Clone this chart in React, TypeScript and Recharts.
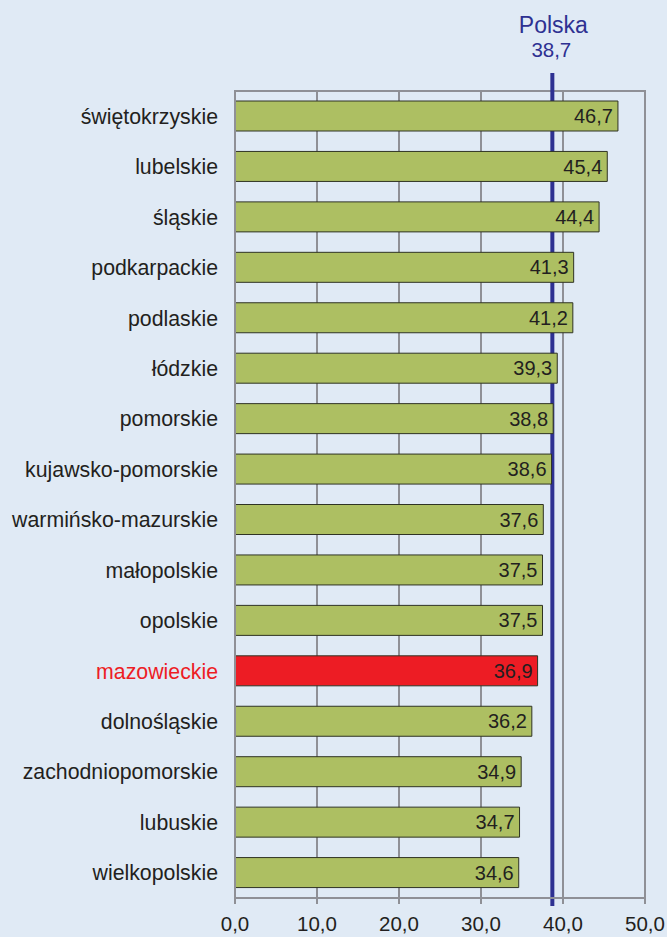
import React from "react";
import {
  BarChart,
  Bar,
  XAxis,
  YAxis,
  CartesianGrid,
  ReferenceLine,
  ReferenceArea,
  LabelList,
  Cell,
} from "recharts";

const regions = [
  "świętokrzyskie",
  "lubelskie",
  "śląskie",
  "podkarpackie",
  "podlaskie",
  "łódzkie",
  "pomorskie",
  "kujawsko-pomorskie",
  "warmińsko-mazurskie",
  "małopolskie",
  "opolskie",
  "mazowieckie",
  "dolnośląskie",
  "zachodniopomorskie",
  "lubuskie",
  "wielkopolskie",
];

const values = [
  46.7, 45.4, 44.4, 41.3, 41.2, 39.3, 38.8, 38.6, 37.6, 37.5, 37.5, 36.9, 36.2,
  34.9, 34.7, 34.6,
];

const xTicks = [0, 10, 20, 30, 40, 50];

const highlight = "mazowieckie";
const polskaLabel = "Polska";
const polskaValue = 38.7;

const BG = "#e0eaf5";
const GRID = "#8f9096";
const GREEN = "#adbf62";
const RED = "#ed1c24";
const BLUE = "#2e3192";
const TEXT = "#231f20";
const FONT = "Arial, 'Liberation Sans', Helvetica, sans-serif";

const data = regions.map((name, i) => ({ name, value: values[i] }));

const fmt = (v: number) => v.toFixed(1).replace(".", ",");

const RegionTick = (props: any) => {
  const { x, y, payload } = props;
  const isHi = payload.value === highlight;
  return (
    <text
      x={x}
      y={y}
      dy="0.355em"
      textAnchor="end"
      fontSize={21.3}
      fontFamily={FONT}
      fill={isHi ? RED : TEXT}
    >
      {payload.value}
    </text>
  );
};

const PolskaLine = (props: any) => {
  const { x1, y1, x2, y2 } = props;
  const top = Math.min(y1, y2) - 18;
  const bottom = Math.max(y1, y2) + 8;
  return (
    <g>
      <line x1={x1} y1={top} x2={x2} y2={bottom} stroke={BLUE} strokeWidth={4} />
      <text
        x={x1 + 1}
        y={top - 40}
        textAnchor="middle"
        fontSize={23}
        fontFamily={FONT}
        fill={BLUE}
      >
        {polskaLabel}
      </text>
      <text
        x={x1 - 1}
        y={top - 16}
        textAnchor="middle"
        fontSize={20.5}
        fontFamily={FONT}
        fill={BLUE}
      >
        {fmt(polskaValue)}
      </text>
    </g>
  );
};

export default function App() {
  return (
    <div
      style={{
        position: "absolute",
        left: 0,
        top: 0,
        width: 667,
        height: 937,
        background: BG,
      }}
    >
      <BarChart
        width={667}
        height={937}
        data={data}
        layout="vertical"
        margin={{ top: 91, right: 22, bottom: 0, left: 0 }}
        barSize={30}
      >
        <CartesianGrid horizontal={false} stroke={GRID} strokeWidth={2} />
        <ReferenceArea
          x1={0}
          x2={50}
          fill="none"
          stroke={GRID}
          strokeWidth={2}
          ifOverflow="extendDomain"
        />
        <ReferenceLine
          x={polskaValue}
          shape={<PolskaLine />}
          zIndex={100}
        />
        <XAxis
          type="number"
          domain={[0, 50]}
          ticks={xTicks}
          tickFormatter={fmt}
          height={39}
          tickSize={6}
          tickMargin={12}
          axisLine={{ stroke: GRID, strokeWidth: 2 }}
          tickLine={{ stroke: GRID, strokeWidth: 2 }}
          tick={{ fontSize: 20.5, fontFamily: FONT, fill: TEXT }}
          interval={0}
        />
        <YAxis
          type="category"
          dataKey="name"
          width={235}
          tickSize={0}
          tickMargin={17}
          tickLine={false}
          axisLine={{ stroke: GRID, strokeWidth: 2 }}
          tick={<RegionTick />}
          interval={0}
        />
        <Bar
          dataKey="value"
          stroke="#2f3324"
          strokeWidth={1}
          isAnimationActive={false}
        >
          {data.map((d) => (
            <Cell key={d.name} fill={d.name === highlight ? RED : GREEN} />
          ))}
          <LabelList
            dataKey="value"
            position="insideRight"
            offset={5}
            formatter={(v: any) => fmt(Number(v))}
            style={{ fontSize: 20, fontFamily: FONT, fill: TEXT }}
          />
        </Bar>
      </BarChart>
    </div>
  );
}
